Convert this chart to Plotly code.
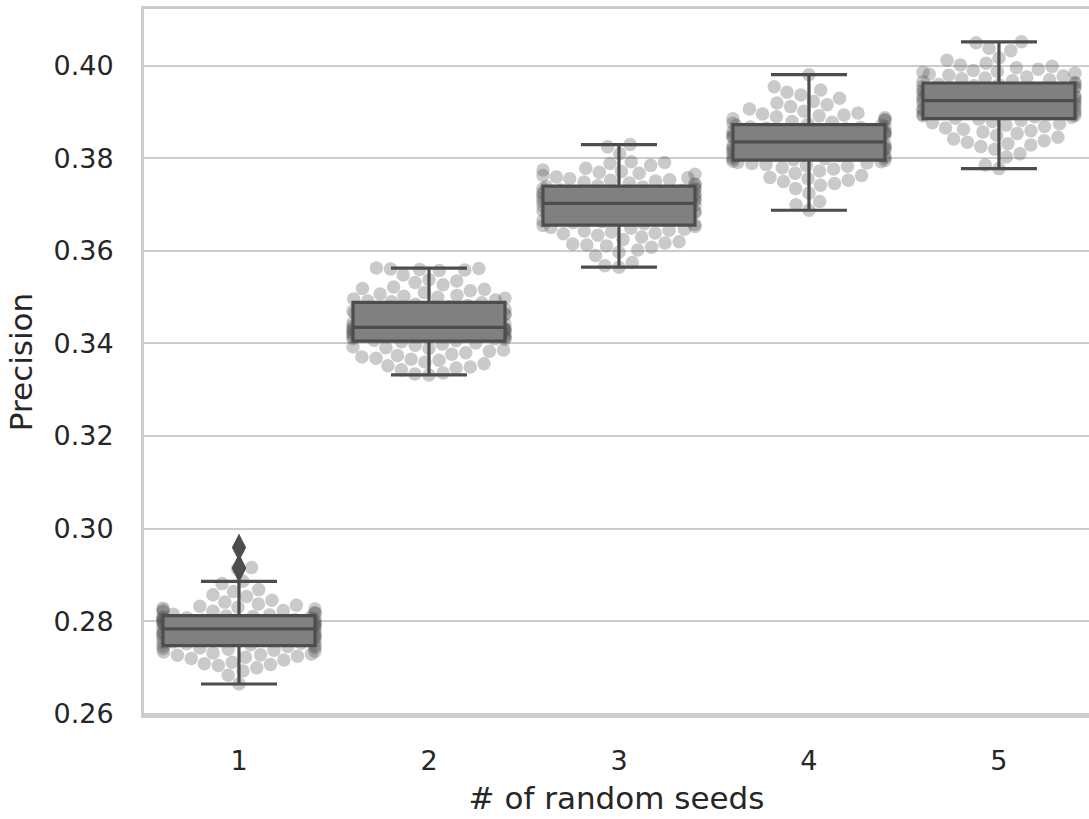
import numpy as np
import plotly.graph_objects as go

# ---------------- data ----------------
categories = ["1", "2", "3", "4", "5"]
y_ticks = [0.26, 0.28, 0.30, 0.32, 0.34, 0.36, 0.38, 0.40]

seeds_1 = [
    0.2664, 0.2683, 0.2692, 0.2699, 0.2704, 0.2706, 0.2708, 0.2711, 0.2716, 0.2719,
    0.2722, 0.2724, 0.2726, 0.2727, 0.2729, 0.2731, 0.2733, 0.2735, 0.2737, 0.2739,
    0.2740, 0.2742, 0.2743, 0.2745, 0.2746,
    0.2748, 0.2749, 0.2751, 0.2752, 0.2754, 0.2755, 0.2757, 0.2758, 0.2760, 0.2761,
    0.2763, 0.2764, 0.2766, 0.2767, 0.2769, 0.2770, 0.2771, 0.2773, 0.2774, 0.2776,
    0.2777, 0.2779, 0.2780, 0.2781, 0.2782,
    0.2784, 0.2785, 0.2786, 0.2788, 0.2789, 0.2790, 0.2791, 0.2793, 0.2794, 0.2795,
    0.2796, 0.2797, 0.2799, 0.2800, 0.2801, 0.2802, 0.2803, 0.2804, 0.2805, 0.2806,
    0.2807, 0.2808, 0.2809, 0.2810, 0.2811,
    0.2813, 0.2815, 0.2817, 0.2818, 0.2820, 0.2821, 0.2823, 0.2824, 0.2826, 0.2828,
    0.2830, 0.2832, 0.2834, 0.2837, 0.2841, 0.2845, 0.2853, 0.2857, 0.2864, 0.2868,
    0.2881, 0.2886, 0.2913, 0.2916, 0.2959,
]
seeds_2 = [
    0.3332, 0.3334, 0.3336, 0.3343, 0.3347, 0.3349, 0.3352, 0.3356, 0.3360, 0.3364,
    0.3366, 0.3368, 0.3371, 0.3374, 0.3377, 0.3380, 0.3383, 0.3386, 0.3389, 0.3391,
    0.3393, 0.3396, 0.3399, 0.3401, 0.3404,
    0.3406, 0.3407, 0.3409, 0.3410, 0.3411, 0.3413, 0.3414, 0.3415, 0.3417, 0.3418,
    0.3419, 0.3420, 0.3421, 0.3423, 0.3424, 0.3425, 0.3426, 0.3427, 0.3428, 0.3429,
    0.3430, 0.3431, 0.3432, 0.3433, 0.3434,
    0.3436, 0.3438, 0.3440, 0.3442, 0.3444, 0.3446, 0.3448, 0.3450, 0.3452, 0.3454,
    0.3456, 0.3458, 0.3460, 0.3462, 0.3464, 0.3466, 0.3468, 0.3470, 0.3472, 0.3474,
    0.3477, 0.3480, 0.3482, 0.3485, 0.3488,
    0.3490, 0.3492, 0.3494, 0.3496, 0.3498, 0.3500, 0.3502, 0.3504, 0.3507, 0.3510,
    0.3514, 0.3517, 0.3519, 0.3522, 0.3527, 0.3532, 0.3535, 0.3538, 0.3548, 0.3558,
    0.3559, 0.3560, 0.3561, 0.3562, 0.3563,
]
seeds_3 = [
    0.3565, 0.3568, 0.3575, 0.3590, 0.3597, 0.3602, 0.3608, 0.3611, 0.3613, 0.3615,
    0.3617, 0.3620, 0.3625, 0.3630, 0.3634, 0.3637, 0.3639, 0.3641, 0.3643, 0.3645,
    0.3647, 0.3649, 0.3651, 0.3653, 0.3655,
    0.3657, 0.3659, 0.3661, 0.3663, 0.3665, 0.3667, 0.3669, 0.3671, 0.3673, 0.3675,
    0.3677, 0.3679, 0.3681, 0.3683, 0.3685, 0.3687, 0.3689, 0.3691, 0.3693, 0.3695,
    0.3696, 0.3698, 0.3699, 0.3701, 0.3702,
    0.3704, 0.3705, 0.3707, 0.3708, 0.3710, 0.3711, 0.3713, 0.3714, 0.3716, 0.3717,
    0.3719, 0.3720, 0.3722, 0.3723, 0.3725, 0.3726, 0.3728, 0.3729, 0.3731, 0.3732,
    0.3734, 0.3735, 0.3736, 0.3738, 0.3739,
    0.3741, 0.3743, 0.3745, 0.3747, 0.3749, 0.3751, 0.3753, 0.3754, 0.3756, 0.3758,
    0.3760, 0.3763, 0.3766, 0.3768, 0.3770, 0.3772, 0.3775, 0.3779, 0.3785, 0.3789,
    0.3791, 0.3793, 0.3810, 0.3825, 0.3830,
]
seeds_4 = [
    0.3688, 0.3700, 0.3707, 0.3725, 0.3735, 0.3742, 0.3746, 0.3750, 0.3753, 0.3756,
    0.3759, 0.3763, 0.3768, 0.3773, 0.3777, 0.3780, 0.3783, 0.3785, 0.3787, 0.3789,
    0.3790, 0.3791, 0.3793, 0.3794, 0.3796,
    0.3797, 0.3799, 0.3800, 0.3802, 0.3803, 0.3805, 0.3806, 0.3808, 0.3809, 0.3811,
    0.3812, 0.3814, 0.3815, 0.3817, 0.3818, 0.3820, 0.3821, 0.3823, 0.3824, 0.3826,
    0.3827, 0.3829, 0.3830, 0.3832, 0.3835,
    0.3837, 0.3838, 0.3840, 0.3841, 0.3843, 0.3844, 0.3846, 0.3847, 0.3849, 0.3850,
    0.3852, 0.3853, 0.3855, 0.3856, 0.3858, 0.3859, 0.3861, 0.3862, 0.3864, 0.3865,
    0.3867, 0.3868, 0.3869, 0.3871, 0.3872,
    0.3874, 0.3876, 0.3878, 0.3880, 0.3882, 0.3884, 0.3886, 0.3888, 0.3890, 0.3892,
    0.3894, 0.3896, 0.3898, 0.3902, 0.3907, 0.3912, 0.3916, 0.3920, 0.3923, 0.3930,
    0.3937, 0.3943, 0.3948, 0.3955, 0.3981,
]
seeds_5 = [
    0.3778, 0.3786, 0.3803, 0.3810, 0.3820, 0.3826, 0.3829, 0.3832, 0.3835, 0.3838,
    0.3842, 0.3846, 0.3850, 0.3854, 0.3857, 0.3860, 0.3863, 0.3866, 0.3869, 0.3872,
    0.3875, 0.3877, 0.3880, 0.3882, 0.3885,
    0.3887, 0.3889, 0.3890, 0.3892, 0.3893, 0.3895, 0.3896, 0.3898, 0.3899, 0.3901,
    0.3902, 0.3904, 0.3905, 0.3907, 0.3908, 0.3910, 0.3911, 0.3913, 0.3914, 0.3916,
    0.3917, 0.3919, 0.3920, 0.3922, 0.3924,
    0.3926, 0.3927, 0.3929, 0.3930, 0.3932, 0.3933, 0.3935, 0.3936, 0.3938, 0.3939,
    0.3941, 0.3942, 0.3944, 0.3945, 0.3947, 0.3948, 0.3950, 0.3951, 0.3953, 0.3954,
    0.3956, 0.3957, 0.3959, 0.3960, 0.3962,
    0.3964, 0.3966, 0.3968, 0.3970, 0.3972, 0.3974, 0.3976, 0.3978, 0.3980, 0.3982,
    0.3984, 0.3986, 0.3988, 0.3990, 0.3993, 0.3996, 0.3999, 0.4002, 0.4006, 0.4012,
    0.4017, 0.4033, 0.4038, 0.4050, 0.4052,
]
groups = [seeds_1, seeds_2, seeds_3, seeds_4, seeds_5]

# ---------------- layout geometry ----------------
W, H = 1089, 819
MARGIN = dict(l=144, r=0, t=9, b=104)
X_RANGE = [-0.5, 4.474]
Y_RANGE = [0.2597, 0.4123]
PX_X = (W - MARGIN["l"] - MARGIN["r"]) / (X_RANGE[1] - X_RANGE[0])
PX_Y = (H - MARGIN["t"] - MARGIN["b"]) / (Y_RANGE[1] - Y_RANGE[0])
DOT = 13.5          # marker diameter (px)
BOX_WIDTH = 0.8


def swarm_x(values, center):
    """Seaborn-like beeswarm layout (pixel space), with gutters."""
    vals = np.asarray(values, float)
    order = np.argsort(vals, kind="mergesort")
    ys = vals[order] * PX_Y
    px, py = [], []
    for y in ys:
        nb = [(a, b) for a, b in zip(px, py) if abs(y - b) < DOT]
        cands = [0.0]
        for a, b in nb:
            dy = y - b
            dx = np.sqrt(max(DOT * DOT - dy * dy, 0.0)) * 1.05
            cands += [a - dx, a + dx]
        cands = sorted(cands, key=abs)
        chosen = cands[-1]
        for c in cands:
            if all((c - a) ** 2 + (y - b) ** 2 >= DOT * DOT * 0.999 for a, b in nb):
                chosen = c
                break
        px.append(chosen)
        py.append(y)
    off = np.clip(np.array(px) / PX_X, -BOX_WIDTH / 2, BOX_WIDTH / 2)
    xs = np.empty_like(vals)
    xs[order] = center + off
    return xs


fig = go.Figure()

# swarm points (base axes, drawn below the boxes)
for i, vals in enumerate(groups):
    fig.add_trace(go.Scatter(
        x=swarm_x(vals, i), y=vals, mode="markers",
        marker=dict(size=DOT, color="rgba(80,80,80,0.3)", line=dict(width=0)),
        showlegend=False, hoverinfo="y", xaxis="x", yaxis="y",
    ))

# boxes on an overlaying axis pair so they sit on top of the points
for i, vals in enumerate(groups):
    fig.add_trace(go.Box(
        x=[i] * len(vals), y=vals, width=BOX_WIDTH, whiskerwidth=0.5,
        quartilemethod="inclusive",
        boxpoints="outliers", jitter=0, pointpos=0,
        fillcolor="#808080", line=dict(color="#4d4d4d", width=3.2),
        marker=dict(symbol="diamond-tall", size=20, color="#4d4d4d",
                    line=dict(width=0)),
        showlegend=False, xaxis="x2", yaxis="y2",
    ))

tick_font = dict(family="DejaVu Sans", size=27, color="#262626")
title_font = dict(family="DejaVu Sans", size=31, color="#262626")

fig.update_layout(
    width=W, height=H, margin=MARGIN,
    paper_bgcolor="white", plot_bgcolor="white",
    showlegend=False,
    xaxis=dict(
        range=X_RANGE, tickmode="array", tickvals=list(range(len(categories))),
        ticktext=categories, tickfont=tick_font,
        ticks="outside", ticklen=20, tickcolor="rgba(0,0,0,0)",
        showgrid=False, zeroline=False,
        showline=True, linecolor="#cccccc", linewidth=3, mirror=True,
        title=dict(text="# of random seeds", font=title_font, standoff=12),
    ),
    yaxis=dict(
        range=Y_RANGE, tickmode="array", tickvals=y_ticks,
        ticktext=[f"{v:.2f}" for v in y_ticks], tickfont=tick_font,
        ticks="outside", ticklen=22, tickcolor="rgba(0,0,0,0)",
        showgrid=True, gridcolor="#cccccc", gridwidth=2, zeroline=False,
        showline=True, linecolor="#cccccc", linewidth=3,
        title=dict(text="Precision", font=title_font, standoff=12),
    ),
    xaxis2=dict(range=X_RANGE, overlaying="x", visible=False, showgrid=False),
    yaxis2=dict(range=Y_RANGE, overlaying="y", visible=False, showgrid=False),
)

fig.write_html("out.html")
